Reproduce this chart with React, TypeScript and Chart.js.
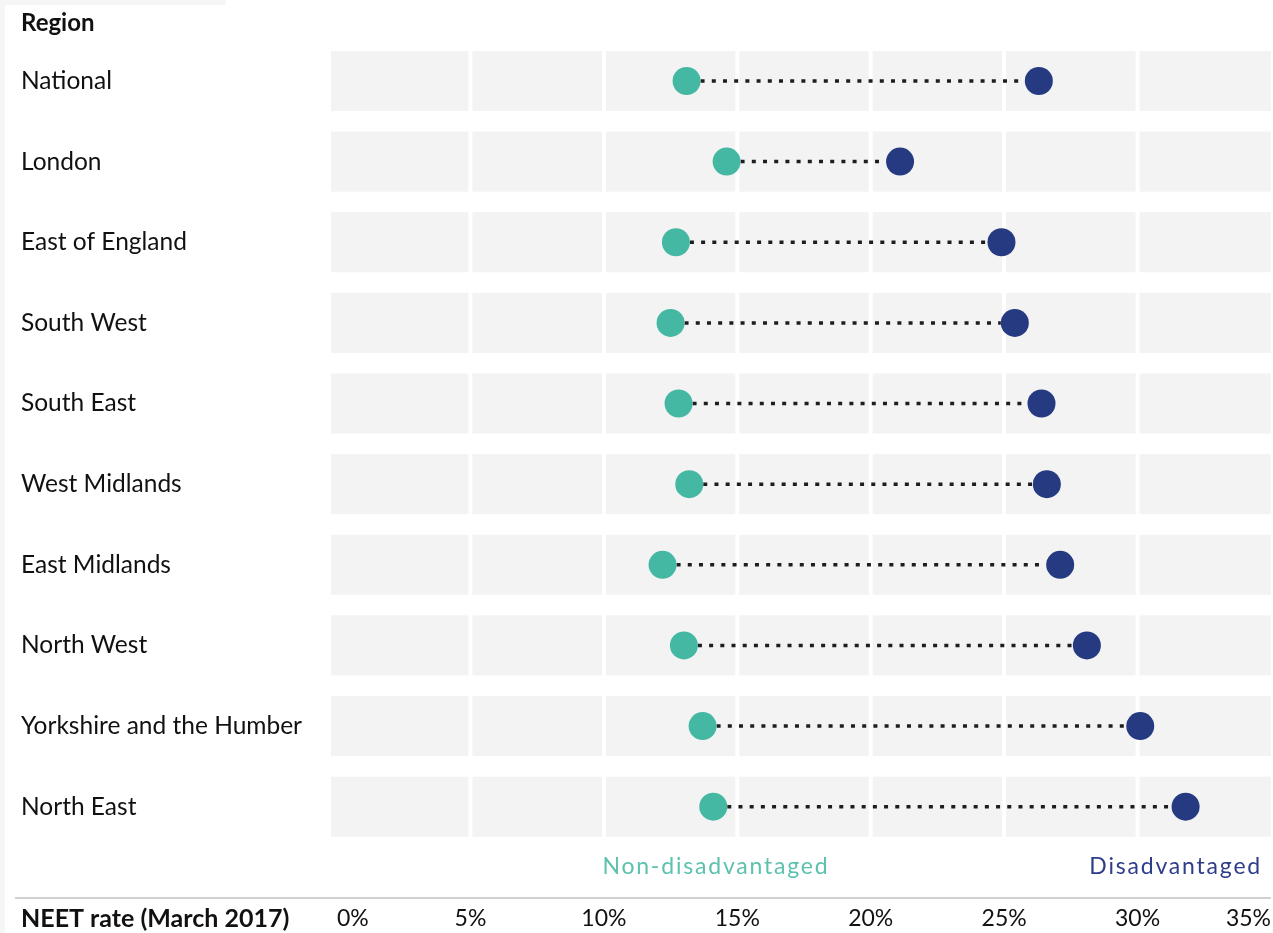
import React, { useEffect, useRef } from "react";
import { Chart, registerables } from "chart.js";

Chart.register(...registerables);

const regions = [
  "National",
  "London",
  "East of England",
  "South West",
  "South East",
  "West Midlands",
  "East Midlands",
  "North West",
  "Yorkshire and the Humber",
  "North East",
];
const nonDisadvantaged = [13.1, 14.6, 12.7, 12.5, 12.8, 13.2, 12.2, 13.0, 13.7, 14.1];
const disadvantaged = [26.3, 21.1, 24.9, 25.4, 26.4, 26.6, 27.1, 28.1, 30.1, 31.8];
const xTickValues = [0, 5, 10, 15, 20, 25, 30, 35];

const FONT = "Lato, 'Open Sans', sans-serif";
const TEAL = "#45b8a3";
const NAVY = "#263a82";
const TEAL_TEXT = "#5cc2ae";
const NAVY_TEXT = "#2e3d8a";

const decorPlugin = {
  id: "decor",
  beforeDraw(chart: any) {
    const ctx = chart.ctx;
    const area = chart.chartArea;
    const xs = chart.scales.x;
    ctx.save();
    // faint page strips
    ctx.fillStyle = "#f6f6f6";
    ctx.fillRect(0, 0, 226, 5);
    ctx.fillRect(0, 0, 5, chart.height);
    // Region header
    ctx.fillStyle = "#111";
    ctx.font = `bold 24px ${FONT}`;
    ctx.textBaseline = "middle";
    ctx.textAlign = "left";
    ctx.fillText("Region", 21, 23);
    // legend texts
    ctx.font = `23px ${FONT}`;
    (ctx as any).letterSpacing = "1.8px";
    ctx.fillStyle = TEAL_TEXT;
    ctx.textAlign = "center";
    ctx.fillText("Non-disadvantaged", xs.getPixelForValue(14.2), area.bottom + 20);
    ctx.fillStyle = NAVY_TEXT;
    ctx.textAlign = "right";
    ctx.fillText("Disadvantaged", area.right - 9, area.bottom + 20);
    (ctx as any).letterSpacing = "0px";
    // separator
    ctx.strokeStyle = "#d0d0d0";
    ctx.lineWidth = 2;
    ctx.beginPath();
    ctx.moveTo(15, area.bottom + 51);
    ctx.lineTo(area.right, area.bottom + 51);
    ctx.stroke();
    // axis title
    ctx.fillStyle = "#111";
    ctx.font = `bold 25px ${FONT}`;
    ctx.textAlign = "left";
    ctx.fillText("NEET rate (March 2017)", 21, area.bottom + 72);
    ctx.restore();
  },
  beforeDatasetsDraw(chart: any) {
    const ctx = chart.ctx;
    const xs = chart.scales.x;
    const ys = chart.scales.y;
    const rowH = (chart.chartArea.bottom - chart.chartArea.top) / regions.length;
    const bandH = rowH * 0.745;
    ctx.save();
    // gray bands with white gaps at every 5%
    ctx.fillStyle = "#f3f3f3";
    regions.forEach((_, i) => {
      const yc = ys.getPixelForValue(i);
      for (let k = 0; k < xTickValues.length - 1; k++) {
        let x0 = xs.getPixelForValue(xTickValues[k]) + 2;
        const x1 = xs.getPixelForValue(xTickValues[k + 1]) - (k === xTickValues.length - 2 ? 0 : 2);
        if (k === 0) x0 = xs.getPixelForValue(0) - 6;
        ctx.fillRect(x0, yc - bandH / 2, x1 - x0, bandH);
      }
    });
    // dotted connectors
    ctx.strokeStyle = "#1e1e1e";
    ctx.lineWidth = 3.5;
    ctx.setLineDash([4, 7.2]);
    regions.forEach((_, i) => {
      const yc = ys.getPixelForValue(i);
      const a = xs.getPixelForValue(nonDisadvantaged[i]);
      const b = xs.getPixelForValue(disadvantaged[i]);
      ctx.beginPath();
      ctx.moveTo(a + 14, yc);
      ctx.lineTo(b - 14, yc);
      ctx.stroke();
    });
    ctx.restore();
  },
};

export default function App() {
  const ref = useRef<HTMLCanvasElement | null>(null);
  useEffect(() => {
    if (!ref.current) return;
    const chart = new Chart(ref.current, {
      type: "scatter",
      data: {
        labels: regions,
        datasets: [
          {
            label: "Non-disadvantaged",
            data: regions.map((r, i) => ({ x: nonDisadvantaged[i], y: r })) as any,
            backgroundColor: TEAL,
            borderColor: TEAL,
            pointRadius: 14,
            pointBorderWidth: 0,
          },
          {
            label: "Disadvantaged",
            data: regions.map((r, i) => ({ x: disadvantaged[i], y: r })) as any,
            backgroundColor: NAVY,
            borderColor: NAVY,
            pointRadius: 14,
            pointBorderWidth: 0,
          },
        ],
      },
      options: {
        responsive: false,
        animation: false,
        layout: { autoPadding: false, padding: { left: 21, right: 2, top: 40.67, bottom: 0 } },
        plugins: {
          legend: { display: false },
          tooltip: { enabled: false },
          title: { display: false },
        },
        scales: {
          x: {
            type: "linear",
            position: "bottom",
            min: 0,
            max: 35,
            grid: {
              display: true,
              drawOnChartArea: false,
              drawTicks: true,
              tickLength: 58,
              color: "rgba(0,0,0,0)",
            },
            border: { display: false },
            afterFit: (s: any) => {
              s.height = 86;
              s.paddingLeft = 0;
              s.paddingRight = 0;
            },
            afterBuildTicks: (s: any) => {
              s.ticks = xTickValues.map((v) => ({ value: v }));
            },
            ticks: {
              align: "inner",
              padding: 0,
              color: "#111",
              font: { family: FONT, size: 23 },
              callback: (v: any) => `${v}%`,
            },
          },
          y: {
            type: "category",
            labels: regions,
            offset: true,
            grid: { display: false, drawTicks: false },
            border: { display: false },
            afterFit: (s: any) => {
              s.width = 316;
              s.paddingTop = 0;
              s.paddingBottom = 0;
            },
            ticks: {
              crossAlign: "far",
              padding: 0,
              color: "#111",
              font: { family: FONT, size: 24.5 },
            },
          },
        },
      },
      plugins: [decorPlugin],
    });
    return () => chart.destroy();
  }, []);
  return (
    <div style={{ position: "fixed", left: 0, top: 0, width: 1273, height: 933, background: "#fff" }}>
      <canvas ref={ref} width={1273} height={933} style={{ display: "block" }} />
    </div>
  );
}
